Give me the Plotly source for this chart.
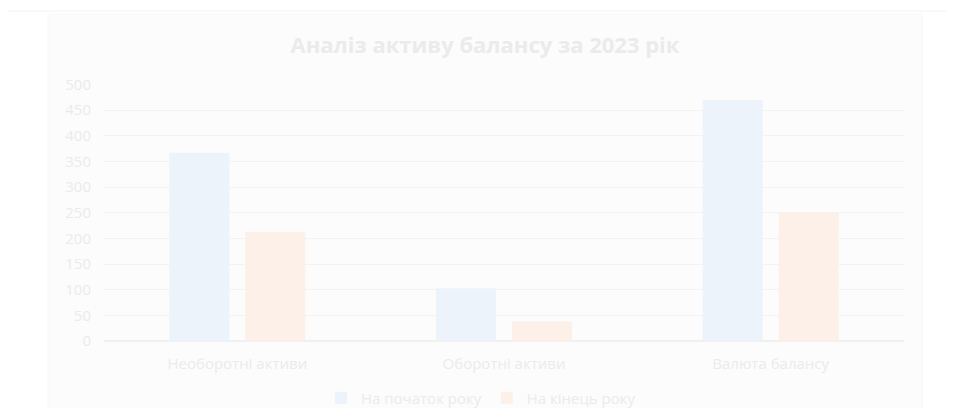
import plotly.graph_objects as go

categories = ["Необоротні активи", "Оборотні активи", "Валюта балансу"]
start_values = [367, 103, 470]
end_values = [213, 38, 251]
series_names = ["На початок року", "На кінець року"]
title_text = "Аналіз активу балансу за 2023 рік"
y_ticks = [0, 50, 100, 150, 200, 250, 300, 350, 400, 450, 500]

text_color = "#ebebeb"
font_family = "Open Sans, Noto Sans, sans-serif"

W, H = 946, 400
L, R, T, B = 96, 50, 76, 67
PW, PH = W - L - R, H - T - B

def px(x):
    return (x - L) / PW

def py(y):
    return (H - B - y) / PH

fig = go.Figure()
fig.add_trace(go.Bar(x=categories, y=start_values, name=series_names[0],
                     marker=dict(color="#ecf3fb", line=dict(width=0))))
fig.add_trace(go.Bar(x=categories, y=end_values, name=series_names[1],
                     marker=dict(color="#fcf0e8", line=dict(width=0))))

fig.update_layout(
    width=W, height=H,
    paper_bgcolor="white", plot_bgcolor="rgba(0,0,0,0)",
    margin=dict(l=L, r=R, t=T, b=B, autoexpand=False),
    barmode="group", bargap=0.43, bargroupgap=0.21,
    title=dict(text="<b>" + title_text + "</b>", x=477 / W, xanchor="center",
               y=1 - 37 / H, yanchor="middle",
               font=dict(family=font_family, size=22, color=text_color)),
    font=dict(family=font_family, size=15, color=text_color),
    showlegend=True,
    legend=dict(orientation="h", x=px(473), xanchor="center", y=py(390), yanchor="middle",
                font=dict(size=15, color=text_color), itemwidth=30,
                traceorder="normal", bgcolor="rgba(0,0,0,0)"),
    shapes=[
        dict(type="rect", xref="paper", yref="paper",
             x0=px(40), x1=px(914), y0=py(420), y1=py(6),
             fillcolor="#fcfcfc", line=dict(color="#f8f8f8", width=1), layer="below"),
        dict(type="line", xref="paper", yref="paper",
             x0=px(-3), x1=px(946), y0=py(3), y1=py(3),
             line=dict(color="#f2f2f2", width=1), layer="below"),
    ],
)
fig.update_xaxes(showgrid=False, showline=False, ticks="", ticklabelstandoff=12,
                 tickfont=dict(size=15, color=text_color))
fig.update_yaxes(range=[0, 501], tickvals=y_ticks, showgrid=True, gridcolor="#f3f3f3",
                 gridwidth=1, zeroline=True, zerolinecolor="#f0f0f0", showline=False,
                 ticks="", ticklabelstandoff=12,
                 tickfont=dict(size=15, color=text_color))

fig.write_html("out.html")
